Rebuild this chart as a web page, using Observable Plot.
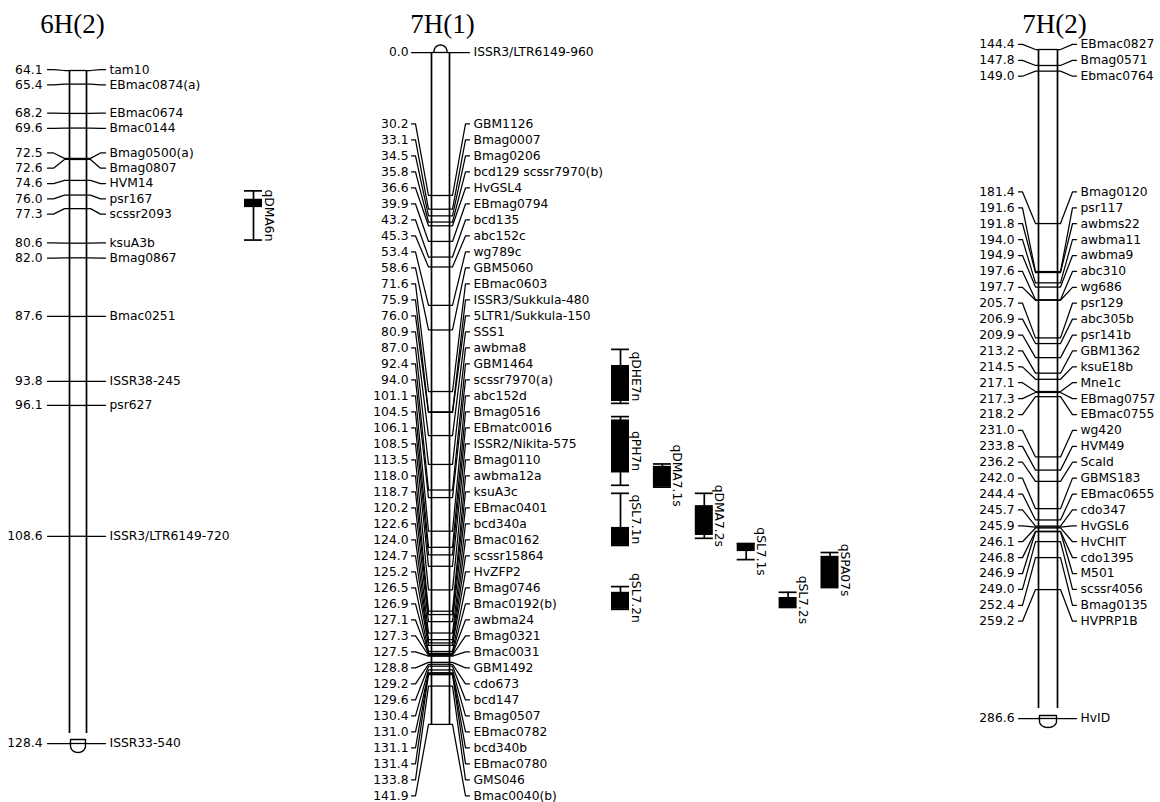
<!DOCTYPE html>
<html><head><meta charset="utf-8">
<script src="https://cdn.jsdelivr.net/npm/d3@7"></script>
<script src="https://cdn.jsdelivr.net/npm/@observablehq/plot@0.6"></script>
<style>
html,body{margin:0;padding:0;background:#fff;}
#wrap{position:relative;width:1160px;height:802px;overflow:hidden;background:#fff;}
#wrap svg{position:absolute;left:0;top:0;}
</style></head><body><div id="wrap"></div>
<script>
// ---------------- DATA ----------------
const chromTitles = ["6H(2)", "7H(1)", "7H(2)"];

const pos6H2 = [64.1, 65.4, 68.2, 69.6, 72.5, 72.6, 74.6, 76.0, 77.3, 80.6, 82.0, 87.6, 93.8, 96.1, 108.6, 128.4];
const names6H2 = ["tam10", "EBmac0874(a)", "EBmac0674", "Bmac0144", "Bmag0500(a)", "Bmag0807", "HVM14", "psr167",
  "scssr2093", "ksuA3b", "Bmag0867", "Bmac0251", "ISSR38-245", "psr627", "ISSR3/LTR6149-720", "ISSR33-540"];

const pos7H1 = [0.0, 30.2, 33.1, 34.5, 35.8, 36.6, 39.9, 43.2, 45.3, 53.4, 58.6, 71.6, 75.9, 76.0, 80.9, 87.0, 92.4, 94.0,
  101.1, 104.5, 106.1, 108.5, 113.5, 118.0, 118.7, 120.2, 122.6, 124.0, 124.7, 125.2, 126.5, 126.9, 127.1, 127.3, 127.5,
  128.8, 129.2, 129.6, 130.4, 131.0, 131.1, 131.4, 133.8, 141.9];
const names7H1 = ["ISSR3/LTR6149-960", "GBM1126", "Bmag0007", "Bmag0206", "bcd129 scssr7970(b)", "HvGSL4", "EBmag0794",
  "bcd135", "abc152c", "wg789c", "GBM5060", "EBmac0603", "ISSR3/Sukkula-480", "5LTR1/Sukkula-150", "SSS1", "awbma8",
  "GBM1464", "scssr7970(a)", "abc152d", "Bmag0516", "EBmatc0016", "ISSR2/Nikita-575", "Bmag0110", "awbma12a", "ksuA3c",
  "EBmac0401", "bcd340a", "Bmac0162", "scssr15864", "HvZFP2", "Bmag0746", "Bmac0192(b)", "awbma24", "Bmag0321",
  "Bmac0031", "GBM1492", "cdo673", "bcd147", "Bmag0507", "EBmac0782", "bcd340b", "EBmac0780", "GMS046", "Bmac0040(b)"];

const pos7H2 = [144.4, 147.8, 149.0, 181.4, 191.6, 191.8, 194.0, 194.9, 197.6, 197.7, 205.7, 206.9, 209.9, 213.2, 214.5,
  217.1, 217.3, 218.2, 231.0, 233.8, 236.2, 242.0, 244.4, 245.7, 245.9, 246.1, 246.8, 246.9, 249.0, 252.4, 259.2, 286.6];
const names7H2 = ["EBmac0827", "Bmag0571", "Ebmac0764", "Bmag0120", "psr117", "awbms22", "awbma11", "awbma9", "abc310",
  "wg686", "psr129", "abc305b", "psr141b", "GBM1362", "ksuE18b", "Mne1c", "EBmag0757", "EBmac0755", "wg420", "HVM49",
  "Scald", "GBMS183", "EBmac0655", "cdo347", "HvGSL6", "HvCHIT", "cdo1395", "M501", "scssr4056", "Bmag0135",
  "HVPRP1B", "HvID"];

// QTL on 6H(2)
const qtl6H2Names = ["qDMA6n"];
const qtl6H2Col = [0];
const qtl6H2OuterLo = [75.6], qtl6H2OuterHi = [80.3];
const qtl6H2InnerLo = [76.4], qtl6H2InnerHi = [77.2];

// QTL on 7H(1)
const qtl7H1Names = ["qDHE7n", "qPH7n", "qSL7.1n", "qSL7.2n", "qDMA7.1s", "qDMA7.2s", "qSL7.1s", "qSL7.2s", "qSPA07s"];
const qtl7H1Col = [0, 0, 0, 0, 1, 2, 3, 4, 5];
const qtl7H1OuterLo = [62.7, 76.9, 93.1, 112.8, 86.9, 93.1, 103.7, 114.0, 105.6];
const qtl7H1OuterHi = [74.1, 91.4, 104.1, 117.6, 91.8, 102.6, 107.1, 117.2, 113.0];
const qtl7H1InnerLo = [66.1, 77.6, 100.3, 114.0, 87.4, 95.7, 103.7, 115.1, 106.4];
const qtl7H1InnerHi = [73.7, 88.8, 104.1, 117.6, 91.8, 102.0, 105.4, 117.2, 113.0];

// ---------------- LAYOUT ----------------
const FONT = "DejaVu Sans";
const FS = 12.3;
const layouts = [
  {title: chromTitles[0], titleX: 72, yPx: [70, 743], numRight: 42, x0L: 47, x1L: 53, x2L: 64, barL: 69, barR: 86,
   x2R: 90, x1R: 100, x0R: 105, nameLeft: 109, spacing: 15.3, top: "flat", bottom: "capsule", capTop: -4, capBot: 9,
   qtlX0: 253, qtlStep: 42},
  {title: chromTitles[1], titleX: 442, yPx: [52, 723.9], numRight: 408, x0L: 411, x1L: 415, x2L: 428, barL: 431, barR: 449,
   x2R: 452, x1R: 465, x0R: 469, nameLeft: 473, spacing: 16, top: "dome", bottom: "flat",
   qtlX0: 620, qtlStep: 41.9},
  {title: chromTitles[2], titleX: 1054, yPx: [49, 718], numRight: 1014, x0L: 1018, x1L: 1022, x2L: 1035, barL: 1038, barR: 1057,
   x2R: 1060, x1R: 1072, x0R: 1076, nameLeft: 1080, spacing: 15.9, top: "flat", bottom: "capsule", capTop: -3, capBot: 9,
   qtlX0: 0, qtlStep: 0}
];

// label spreading: overlapping labels are grouped, each group centred on midpoint of its first & last marker
function spread(px, s) {
  let cl = px.map((p, i) => [i, i]);
  const top = c => (px[c[0]] + px[c[1]]) / 2 - (c[1] - c[0]) * s / 2;
  let merged = true;
  while (merged) {
    merged = false;
    for (let i = 0; i < cl.length - 1; i++) {
      const a = cl[i], b = cl[i + 1];
      if (top(b) - (top(a) + (a[1] - a[0]) * s) < s - 0.01) {
        cl.splice(i, 2, [a[0], b[1]]); merged = true; break;
      }
    }
  }
  const out = [];
  cl.forEach(c => { const t = top(c); for (let i = c[0]; i <= c[1]; i++) out[i] = t + (i - c[0]) * s; });
  return out;
}

function buildQtls(names, col, oLo, oHi, iLo, iHi) {
  return names.map((n, i) => ({name: n, col: col[i], oLo: oLo[i], oHi: oHi[i], iLo: iLo[i], iHi: iHi[i]}));
}

function drawChrom(cfg, pos, names, qtls) {
  const c0 = pos[0], c1 = pos[pos.length - 1];
  const [p0, p1] = cfg.yPx;
  const k = (p1 - p0) / (c1 - c0);
  const toPx = c => p0 + (c - c0) * k;
  const toCm = p => c0 + (p - p0) / k;
  const lab = spread(pos.map(toPx), cfg.spacing).map(toCm);
  const markers = pos.map((cm, i) => ({cm, name: names[i], lab: lab[i], num: cm.toFixed(1)}));

  const conn = [];
  markers.forEach((m, i) => {
    conn.push({id: "L" + i, x: cfg.x0L, y: m.lab}, {id: "L" + i, x: cfg.x1L, y: m.lab},
              {id: "L" + i, x: cfg.x2L, y: m.cm}, {id: "L" + i, x: cfg.barL, y: m.cm});
    conn.push({id: "R" + i, x: cfg.barR, y: m.cm}, {id: "R" + i, x: cfg.x2R, y: m.cm},
              {id: "R" + i, x: cfg.x1R, y: m.lab}, {id: "R" + i, x: cfg.x0R, y: m.lab});
  });

  // chromosome ends
  const cx = (cfg.barL + cfg.barR) / 2, rx = (cfg.barR - cfg.barL) / 2;
  let barTop = c0, barBot = c1;
  const ends = [];
  if (cfg.top === "dome") {
    barTop = c0;
    for (let j = 0; j <= 16; j++) {
      const t = Math.PI * j / 16;
      ends.push({id: "dome", x: cx - (rx - 2.5) * Math.cos(t), y: c0 - 1 / k - (6.5 / k) * Math.sin(t)});
    }
  }
  if (cfg.bottom === "capsule") {
    barBot = c1 - 10 / k;
    const yT = c1 + cfg.capTop / k, yB = c1 + cfg.capBot / k, yM = yT + (yB - yT) * 0.5;
    ends.push({id: "cap", x: cfg.barL + 1, y: yM}, {id: "cap", x: cfg.barL + 1, y: yT},
              {id: "cap", x: cfg.barR - 1, y: yT}, {id: "cap", x: cfg.barR - 1, y: yM});
    for (let j = 0; j <= 16; j++) {
      const t = Math.PI * j / 16;
      ends.push({id: "cap", x: cx + (rx - 1) * Math.cos(t), y: yM + (yB - yM) * Math.sin(t)});
    }
  }

  const qx = q => cfg.qtlX0 + q.col * cfg.qtlStep;
  const caps = qtls.flatMap(q => [{q, y: q.oLo}, {q, y: q.oHi}]);

  const marks = [
    Plot.text([cfg.title], {x: () => cfg.titleX, frameAnchor: "top", dy: 32, lineAnchor: "bottom",
      fontFamily: "Liberation Serif", fontSize: 27, fill: "black"}),
    Plot.ruleX([cfg.barL, cfg.barR], {x: d => d, y1: () => barTop, y2: () => barBot, stroke: "black", strokeWidth: 1.7}),
    Plot.ruleY(markers, {y: "cm", x1: () => cfg.barL, x2: () => cfg.barR, stroke: "black", strokeWidth: 1.3}),
    Plot.line(conn, {x: "x", y: "y", z: "id", stroke: "black", strokeWidth: 1.25}),
    Plot.line(ends, {x: "x", y: "y", z: "id", stroke: "black", strokeWidth: 1.4}),
    Plot.text(markers, {x: () => cfg.numRight, y: "lab", text: "num", textAnchor: "end",
      fontFamily: FONT, fontSize: FS, fill: "black"}),
    Plot.text(markers, {x: () => cfg.nameLeft, y: "lab", text: "name", textAnchor: "start",
      fontFamily: FONT, fontSize: FS, fill: "black"}),
    // QTLs
    Plot.ruleX(qtls, {x: qx, y1: "oLo", y2: "oHi", stroke: "black", strokeWidth: 1.7}),
    Plot.ruleY(caps, {y: "y", x1: d => qx(d.q) - 9, x2: d => qx(d.q) + 9, stroke: "black", strokeWidth: 1.7}),
    Plot.rect(qtls, {x1: q => qx(q) - 9, x2: q => qx(q) + 9, y1: "iLo", y2: "iHi", fill: "black"}),
    Plot.text(qtls, {x: q => qx(q) + 11, y: q => (q.oLo + q.oHi) / 2, text: "name", rotate: 90,
      textAnchor: "middle", lineAnchor: "bottom", fontFamily: FONT, fontSize: FS, fill: "black"})
  ];

  return Plot.plot({
    width: 1160, height: 802, margin: 0,
    x: {type: "linear", domain: [0, 1160], range: [0, 1160], axis: null},
    y: {type: "linear", domain: [c0, c1], range: [p0, p1], axis: null},
    style: {background: "transparent", overflow: "visible"},
    marks
  });
}

const wrap = document.getElementById("wrap");
wrap.appendChild(drawChrom(layouts[0], pos6H2, names6H2,
  buildQtls(qtl6H2Names, qtl6H2Col, qtl6H2OuterLo, qtl6H2OuterHi, qtl6H2InnerLo, qtl6H2InnerHi)));
wrap.appendChild(drawChrom(layouts[1], pos7H1, names7H1,
  buildQtls(qtl7H1Names, qtl7H1Col, qtl7H1OuterLo, qtl7H1OuterHi, qtl7H1InnerLo, qtl7H1InnerHi)));
wrap.appendChild(drawChrom(layouts[2], pos7H2, names7H2, []));
</script></body></html>
